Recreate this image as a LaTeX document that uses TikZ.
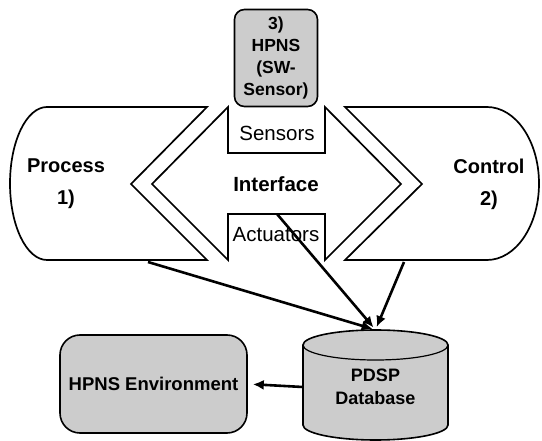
\documentclass[tikz,border=0pt]{standalone}
\usepackage{fontspec}
\setmainfont{Liberation Sans}
\usetikzlibrary{arrows.meta}

\begin{document}
\begin{tikzpicture}[x=1pt, y=-1pt]

      \tikzset{outline/.style={draw, line width=1.7pt},
               graybox/.style={draw, line width=1.6pt, fill=gray!40, rounded corners=10pt, align=center, inner sep=0pt},
               plain/.style={align=center, inner sep=0pt},
               flow/.style={->, > = {Latex[length=11pt, width=10pt]}, line width=2.6pt}}
      \useasboundingbox (0,0) rectangle (542,441);
%% Process, Control and Interface
      	\path[outline] (207,107) -- (47,107) arc[start angle=90, end angle=270, x radius=37pt, y radius=76.5pt] -- (207,260) -- (131,184) -- cycle;
      	\path[outline] (345,107) -- (487,107) arc[start angle=90, end angle=-90, x radius=52pt, y radius=76.5pt] -- (345,260) -- (422,184) -- cycle;
      	\path[outline] (152,184) -- (228,107) -- (228,153) -- (325,153) -- (325,107) -- (401,184) -- (325,260) -- (325,214) -- (228,214) -- (228,260) -- cycle;
%% Labels
      	\node[plain, font=\bfseries\fontsize{20pt}{32pt}\selectfont] (proc) at (66,184) {Process\\1)};
      	\node[plain, font=\bfseries\fontsize{20pt}{32pt}\selectfont] (ctrl) at (489,184) {Control\\2)};
      	\node[plain, font=\fontsize{20.5pt}{24pt}\selectfont] (sens) at (277,133) {Sensors};
      	\node[plain, font=\bfseries\fontsize{20.5pt}{24pt}\selectfont] (intf) at (276,184) {Interface};
      	\node[plain, font=\fontsize{20.5pt}{24pt}\selectfont] (act) at (276,235) {Actuators};
%% Boxes
      	\node[graybox, minimum width=83pt, minimum height=97pt, font=\bfseries\fontsize{17.5pt}{22pt}\selectfont] (hpns) at (276,58) {3)\\HPNS\\(SW-\\Sensor)};
      	\node[graybox, rounded corners=20pt, minimum width=187pt, minimum height=98pt, font=\bfseries\fontsize{18.5pt}{21pt}\selectfont] (env) at (153.5,384) {HPNS Environment};
%% Database
      	\path[outline, line width=1.6pt, fill=gray!40] (303,345) -- (303,425) arc[start angle=180, end angle=360, x radius=72.5pt, y radius=15pt] -- (448,345) arc[start angle=0, end angle=180, x radius=72.5pt, y radius=15pt] -- cycle;
      	\draw[line width=1.2pt] (303,345) arc[start angle=180, end angle=360, x radius=72.5pt, y radius=15pt];
      	\node[plain, minimum width=145pt, minimum height=114pt, font=\bfseries\fontsize{18pt}{22pt}\selectfont] (db) at (375.5,387) {PDSP\\[1pt]Database};
%Arrows
      	\coordinate (pb) at (148,262);
      	\coordinate (ab) at (277,214);
      	\coordinate (cb) at (404,262);
		\path [flow, shorten >=3pt] (pb) edge (db.north);
		\path [flow, shorten >=3pt] (ab) edge (db.north);
		\path [flow, shorten >=3pt] (cb) edge (db.north);
		\path [flow, shorten >=5pt] (db.west) edge (env.east);

	\end{tikzpicture}
\end{document}
